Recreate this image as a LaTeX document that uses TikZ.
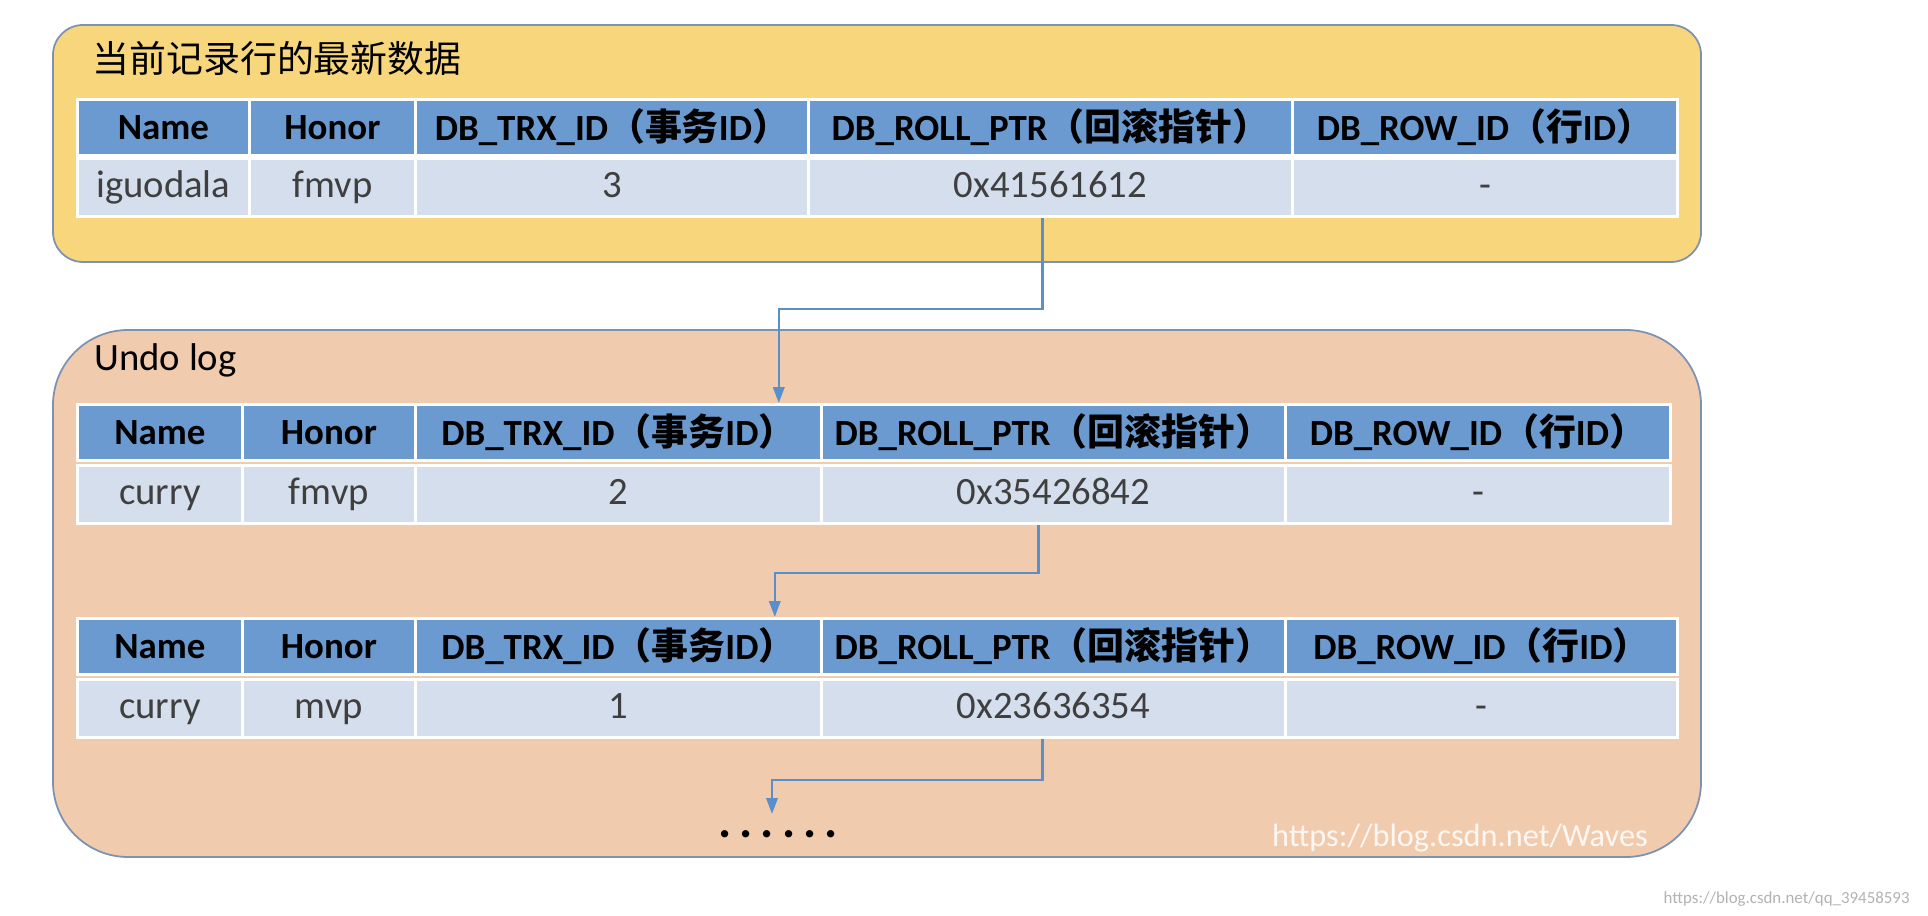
\documentclass[tikz,border=0pt]{standalone}
\usepackage{fontspec}
\setmainfont{Carlito}
\newfontfamily\cjk{Noto Sans CJK SC}
\usetikzlibrary{arrows.meta}

\definecolor{panelgold}{HTML}{F8D67C}
\definecolor{panelpeach}{HTML}{F1CBAE}
\definecolor{panelline}{HTML}{7D92B0}
\definecolor{headblue}{HTML}{6A9AD0}
\definecolor{cellgrey}{HTML}{D5DEEC}
\definecolor{ptrblue}{HTML}{5B8FCC}
\definecolor{celltext}{HTML}{3F3F3F}

\newcommand{\trxhead}{DB\_TRX\_ID{\cjk （事务}ID{\cjk ）}}
\newcommand{\rollhead}{DB\_ROLL\_PTR{\cjk （回滚指针）}}
\newcommand{\rowhead}{DB\_ROW\_ID{\cjk （行}ID{\cjk ）}}

\tikzset{
    panel/.style={draw=panelline, line width=0.5pt},
    hdrcell/.style={fill=headblue, draw=white, line width=0.8pt, inner sep=0pt,
        minimum height=0.56cm, anchor=north west, font=\fontsize{10.5}{12}\selectfont\bfseries},
    datcell/.style={fill=cellgrey, draw=white, line width=0.8pt, inner sep=0pt,
        minimum height=0.58cm, anchor=north west, text=celltext, text height=7pt, text depth=1.5pt,
        font=\fontsize{11}{13}\selectfont},
    ptrline/.style={draw=ptrblue, line width=0.7pt, -{Triangle[width=3.2pt,length=4.5pt]}}
}

\begin{document}
\begin{tikzpicture}[x=0.01cm, y=-0.01cm]
    \useasboundingbox (0,0) rectangle (1928,916);
    % panels
    \draw[panel, fill=panelgold, rounded corners=0.3cm] (53,25) rectangle (1701,262);
    \draw[panel, fill=panelpeach, rounded corners=0.75cm] (53,330) rectangle (1701,857);
    \node[anchor=west, font=\cjk\fontsize{10.5}{12}\selectfont] (title) at (80,58) {当前记录行的最新数据};
    \node[anchor=west, font=\fontsize{11}{13}\selectfont] (undo) at (82,360) {Undo log};

    % current row
    \foreach \x/\w/\t/\n in {76/172/Name/a, 248/166/Honor/b, 414/393/{\trxhead}/c, 807/484/{\rollhead}/d, 1291/385/{\rowhead}/e}
        \node[hdrcell, minimum width=\w*0.01cm] (h1\n) at (\x,98) {\t};
    \foreach \x/\w/\t/\n in {76/172/iguodala/a, 248/166/fmvp/b, 414/393/3/c, 807/484/0x41561612/d, 1291/385/-/e}
        \node[datcell, minimum width=\w*0.01cm] (d1\n) at (\x,157) {\t};

    % undo log, first entry
    \foreach \x/\w/\t/\n in {76/165/Name/a, 241/173/Honor/b, 414/406/{\trxhead}/c, 820/464/{\rollhead}/d, 1284/385/{\rowhead}/e}
        \node[hdrcell, minimum width=\w*0.01cm] (h2\n) at (\x,403) {\t};
    \foreach \x/\w/\t/\n in {76/165/curry/a, 241/173/fmvp/b, 414/406/2/c, 820/464/0x35426842/d, 1284/385/-/e}
        \node[datcell, minimum width=\w*0.01cm] (d2\n) at (\x,464) {\t};

    % undo log, second entry
    \foreach \x/\w/\t/\n in {76/165/Name/a, 241/173/Honor/b, 414/406/{\trxhead}/c, 820/464/{\rollhead}/d, 1284/392/{\rowhead}/e}
        \node[hdrcell, minimum width=\w*0.01cm] (h3\n) at (\x,617) {\t};
    \foreach \x/\w/\t/\n in {76/165/curry/a, 241/173/mvp/b, 414/406/1/c, 820/464/0x23636354/d, 1284/392/-/e}
        \node[datcell, minimum width=\w*0.01cm] (d3\n) at (\x,678) {\t};

    % roll pointers
    \draw[ptrline] ([xshift=-0.08cm]d1d.south) -- ++(0,91) -| ([xshift=-0.44cm]h2c.north east);
    \draw[ptrline] ([xshift=-0.15cm]d2d.south) -- ++(0,48) -| ([xshift=-0.48cm]h3c.north east);
    \coordinate (tail) at (772,814);
    \draw[ptrline] ([xshift=-0.11cm]d3d.south) -- ++(0,41) -| (tail);
    \node[font=\fontsize{14}{14}\selectfont\bfseries] (more) at (778,834) {.\kern2.3pt.\kern2.3pt.\kern2.3pt.\kern2.3pt.\kern2.3pt.};

    % watermarks
    \node[text=white, opacity=0.85, font=\fontsize{9.2}{11}\selectfont] (wm) at (1460,838) {https://blog.csdn.net/Waves};
    \node[anchor=east, text=black!30, font=\fontsize{4.8}{6}\selectfont] (wmsmall) at (1922,899) {https://blog.csdn.net/qq\_39458593};
\end{tikzpicture}
\end{document}
